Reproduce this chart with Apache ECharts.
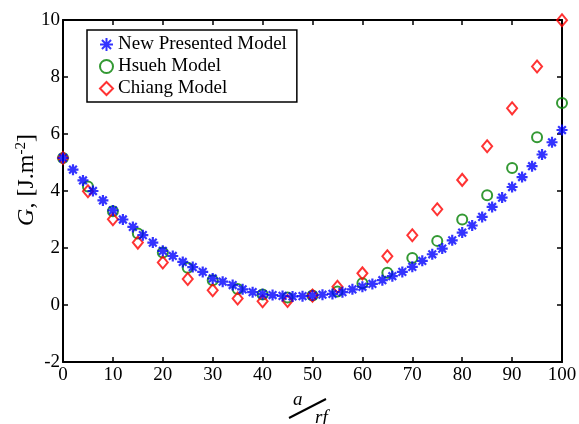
<!DOCTYPE html>
<html>
<head>
<meta charset="utf-8">
<script src="https://cdn.jsdelivr.net/npm/echarts@6/dist/echarts.min.js"></script>
<style>
  html, body { margin: 0; padding: 0; background: #fff; }
  #chart { width: 579px; height: 424px; }
</style>
</head>
<body>
<div id="chart"></div>
<script>
// a/rf values and G values
var newX = [0, 2, 4, 6, 8, 10, 12, 14, 16, 18, 20, 22, 24, 26, 28, 30, 32, 34, 36, 38, 40, 42, 44, 46, 48, 50,
  52, 54, 56, 58, 60, 62, 64, 66, 68, 70, 72, 74, 76, 78, 80, 82, 84, 86, 88, 90, 92, 94, 96, 98, 100];
var newG = [5.16, 4.75, 4.37, 4.0, 3.67, 3.32, 3.0, 2.74, 2.45, 2.19, 1.9, 1.72, 1.51, 1.33, 1.16, 0.93, 0.82, 0.7, 0.55, 0.45, 0.38, 0.35, 0.32, 0.3, 0.31, 0.33,
  0.36, 0.39, 0.45, 0.55, 0.64, 0.74, 0.87, 1.01, 1.16, 1.34, 1.55, 1.78, 1.98, 2.27, 2.54, 2.79, 3.09, 3.44, 3.77, 4.14, 4.49, 4.87, 5.28, 5.71, 6.14];
var refX = [0, 5, 10, 15, 20, 25, 30, 35, 40, 45, 50, 55, 60, 65, 70, 75, 80, 85, 90, 95, 100];
var hsuehG = [5.16, 4.16, 3.29, 2.51, 1.84, 1.31, 0.87, 0.56, 0.37, 0.26, 0.33, 0.47, 0.76, 1.13, 1.65, 2.25, 3.0, 3.85, 4.81, 5.89, 7.09];
var chiangG = [5.16, 3.99, 3.01, 2.19, 1.49, 0.91, 0.52, 0.23, 0.13, 0.14, 0.33, 0.64, 1.11, 1.71, 2.45, 3.36, 4.39, 5.57, 6.9, 8.37, 9.99];

function pairs(xs, ys) {
  return xs.map(function (x, i) { return [x, ys[i]]; });
}

var serif = "Liberation Serif";
var starPath = "path://M0,-10L0,10M-10,0L10,0M-7,-7L7,7M-7,7L7,-7";

var chart = echarts.init(document.getElementById("chart"));
var option = {
  animation: false,
  backgroundColor: "#fff",
  textStyle: { fontFamily: serif, color: "#000" },
  grid: { left: 63, right: 17, top: 20, bottom: 62, containLabel: false, outerBoundsMode: "none" },
  legend: {
    orient: "vertical",
    left: 87,
    top: 30,
    padding: [5, 10, 4, 12],
    itemGap: 3,
    itemWidth: 13,
    itemHeight: 13,
    borderColor: "#000",
    borderWidth: 1.5,
    textStyle: { fontFamily: serif, fontSize: 19, color: "#000" },
    data: ["New Presented Model", "Hsueh Model", "Chiang Model"]
  },
  xAxis: [{
    type: "value", min: 0, max: 100, interval: 10,
    axisLine: { show: true, onZero: false, lineStyle: { color: "#000", width: 2 } },
    axisTick: { show: true, inside: true, length: 5, lineStyle: { color: "#000", width: 1.5 } },
    axisLabel: { fontFamily: serif, fontSize: 19, color: "#000", margin: 4 },
    splitLine: { show: false }
  }, {
    type: "value", min: 0, max: 100, interval: 10, position: "top",
    axisLine: { show: true, onZero: false, lineStyle: { color: "#000", width: 2 } },
    axisTick: { show: true, inside: true, length: 5, lineStyle: { color: "#000", width: 1.5 } },
    axisLabel: { show: false },
    splitLine: { show: false }
  }],
  yAxis: [{
    type: "value", min: -2, max: 10, interval: 2,
    axisLine: { show: true, onZero: false, lineStyle: { color: "#000", width: 2 } },
    axisTick: { show: true, inside: true, length: 5, lineStyle: { color: "#000", width: 1.5 } },
    axisLabel: { fontFamily: serif, fontSize: 19, color: "#000", margin: 3 },
    splitLine: { show: false }
  }, {
    type: "value", min: -2, max: 10, interval: 2, position: "right",
    axisLine: { show: true, onZero: false, lineStyle: { color: "#000", width: 2 } },
    axisTick: { show: true, inside: true, length: 5, lineStyle: { color: "#000", width: 1.5 } },
    axisLabel: { show: false },
    splitLine: { show: false }
  }],
  series: [
    {
      name: "Hsueh Model",
      type: "scatter",
      symbol: "circle",
      symbolSize: 10,
      itemStyle: { color: "rgba(0,0,0,0)", borderColor: "#008000", borderWidth: 2 },
      data: pairs(refX, hsuehG),
      z: 2
    },
    {
      name: "Chiang Model",
      type: "scatter",
      symbol: "diamond",
      symbolSize: [10, 12],
      itemStyle: { color: "rgba(0,0,0,0)", borderColor: "#ff0000", borderWidth: 2 },
      data: pairs(refX, chiangG),
      z: 3
    },
    {
      name: "New Presented Model",
      type: "scatter",
      symbol: starPath,
      symbolSize: 11,
      itemStyle: { color: "#0000ff", borderColor: "#0000ff", borderWidth: 2.2 },
      data: pairs(newX, newG),
      z: 4
    }
  ],
  graphic: [
    // y axis title, rotated
    {
      type: "text", x: 27, y: 180, rotation: Math.PI / 2,
      style: {
        text: "{i|G}, [J.m{s|-2}]",
        align: "center", verticalAlign: "middle",
        font: "24px 'Liberation Serif'", fill: "#000",
        rich: {
          i: { fontFamily: serif, fontSize: 24, fontStyle: "italic" },
          s: { fontFamily: serif, fontSize: 15, padding: [0, 0, 12, 0] }
        }
      }
    },
    // x axis title a/rf
    { type: "text", left: 293, top: 390, style: { text: "a", font: "italic 19px 'Liberation Serif'", fill: "#000" } },
    { type: "line", shape: { x1: 289, y1: 418, x2: 326, y2: 399 }, style: { stroke: "#000", lineWidth: 2 } },
    { type: "text", left: 315, top: 408, style: { text: "rf", font: "italic 19px 'Liberation Serif'", fill: "#000" } }
  ]
};
chart.setOption(option);
</script>
</body>
</html>
